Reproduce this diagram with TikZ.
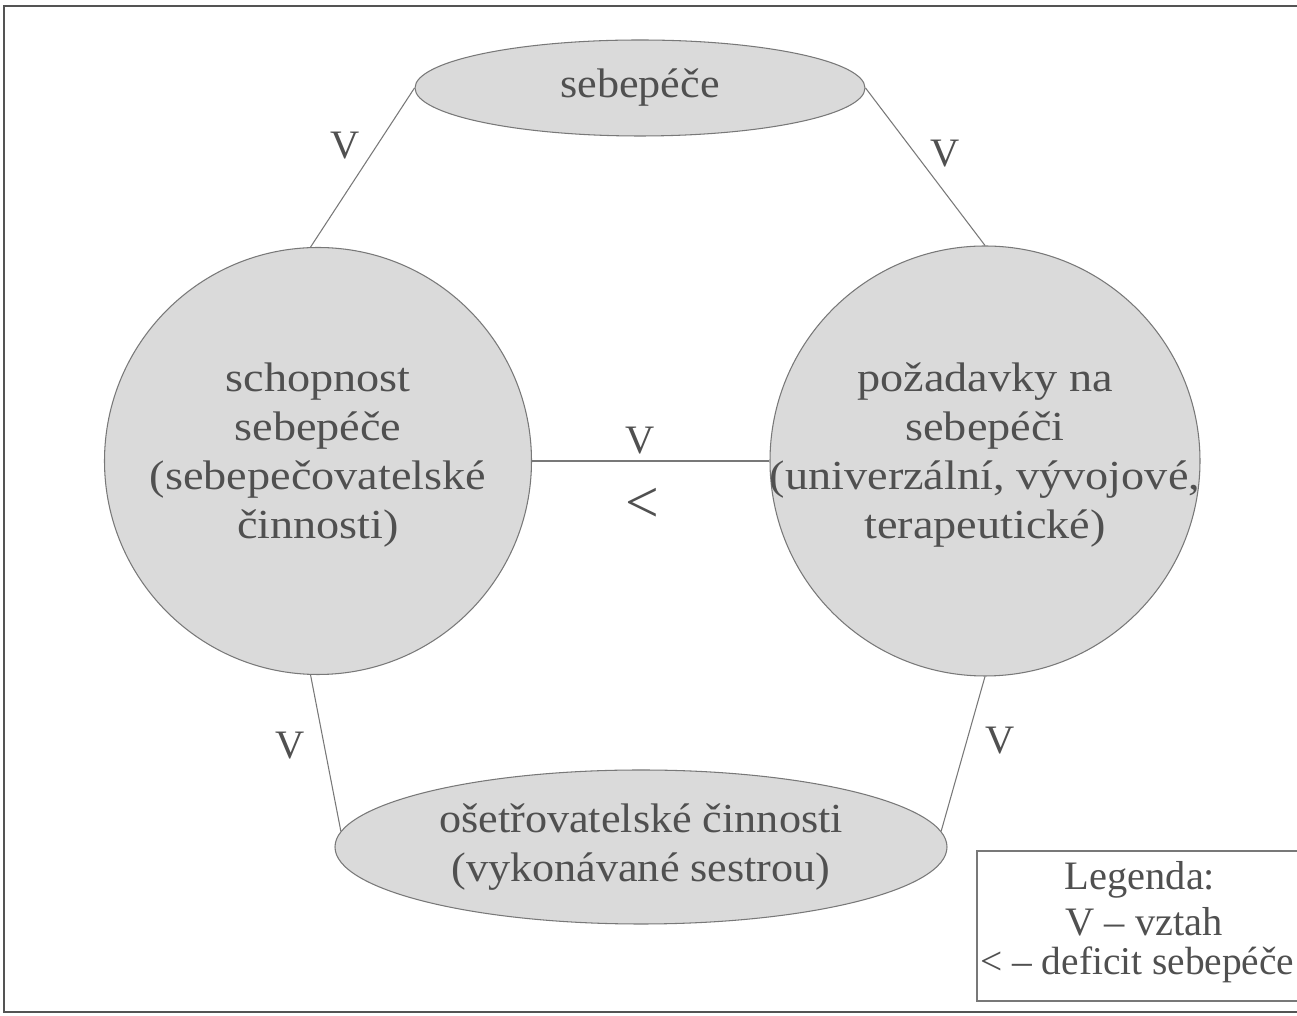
\documentclass[tikz,border=0pt]{standalone}
\usepackage{fontspec}
\setmainfont{Liberation Serif}
\newfontfamily\widefont[FakeStretch=1.12]{Liberation Serif}
\newfontfamily\midfont[FakeStretch=1.07]{Liberation Serif}
\usetikzlibrary{shapes.geometric}
\definecolor{txt}{RGB}{80,80,80}
\definecolor{shade}{RGB}{218,218,218}
\definecolor{edge}{RGB}{120,120,120}
\tikzset{
  blob/.style={draw=edge, fill=shade, line width=0.6pt, inner sep=0pt, text=txt, align=center},
  roundblob/.style={blob, circle},
  ovalblob/.style={blob, ellipse, font=\midfont\fontsize{23.5}{27.8}\selectfont},
  intext/.style={text=txt, align=center, inner sep=0pt, font=\widefont\fontsize{23.5}{27.8}\selectfont},
  link/.style={draw=edge, line width=0.6pt},
  lbl/.style={text=txt, font=\fontsize{23}{28}\selectfont, inner sep=0pt}
}
\begin{document}
\begin{tikzpicture}
\useasboundingbox (0,0) rectangle (25.94,20.32);
\fill[white] (0,0) rectangle (25.94,20.32);
% outer frame (right side cropped)
\draw[color=edge!70!black, line width=1.2pt] (25.94,20.2) -- (0.08,20.2) -- (0.08,0.08) -- (25.94,0.08);
% shapes
\node[ovalblob, minimum width=9cm, minimum height=1.92cm] (top) at (12.8,18.56) {sebepéče};
\node[roundblob, minimum size=8.54cm] (left) at (6.36,11.1) {};
\node[roundblob, minimum size=8.6cm] (right) at (19.7,11.1) {};
\node[intext] (lefttext) at ([yshift=3.5pt]left.center) {schopnost\\sebepéče\\(sebepečovatelské\\činnosti)};
\node[intext] (righttext) at ([yshift=3.5pt]right.center) {požadavky na\\sebepéči\\(univerzální, vývojové,\\terapeutické)};
\node[ovalblob, minimum width=12.24cm, minimum height=3.08cm] (bot) at (12.82,3.38) {ošetřovatelské činnosti\\(vykonávané sestrou)};
% connectors
\draw[link] (top.west) -- (left.92);
\draw[link] (top.east) -- (right.90);
\draw[link] (left.268) -- (bot.177);
\draw[link] (right.270) -- (bot.3);
\draw[link] (left.east) -- (right.west);
% labels
\node[lbl] (v1) at (6.9,17.4) {V};
\node[lbl] (v2) at (18.9,17.25) {V};
\node[lbl] (v3) at (12.8,11.5) {V};
\node[lbl, font=\fontsize{34}{40}\selectfont] (lt) at (12.84,10.22) {<};
\node[lbl] (v4) at (5.8,5.4) {V};
\node[lbl] (v5) at (20.0,5.5) {V};
% legend
\draw[color=edge, line width=0.6pt] (25.94,3.3) -- (19.54,3.3) -- (19.54,0.3) -- (25.94,0.3);
\node[lbl] (leg1) at (22.8,2.72) {Legenda:};
\node[lbl] (leg2) at (22.88,1.88) {V – vztah};
\node[lbl, anchor=west, font=\fontsize{22.4}{28}\selectfont] (leg3) at (19.6,1.02) {< – deficit sebepéče};
\end{tikzpicture}
\end{document}
